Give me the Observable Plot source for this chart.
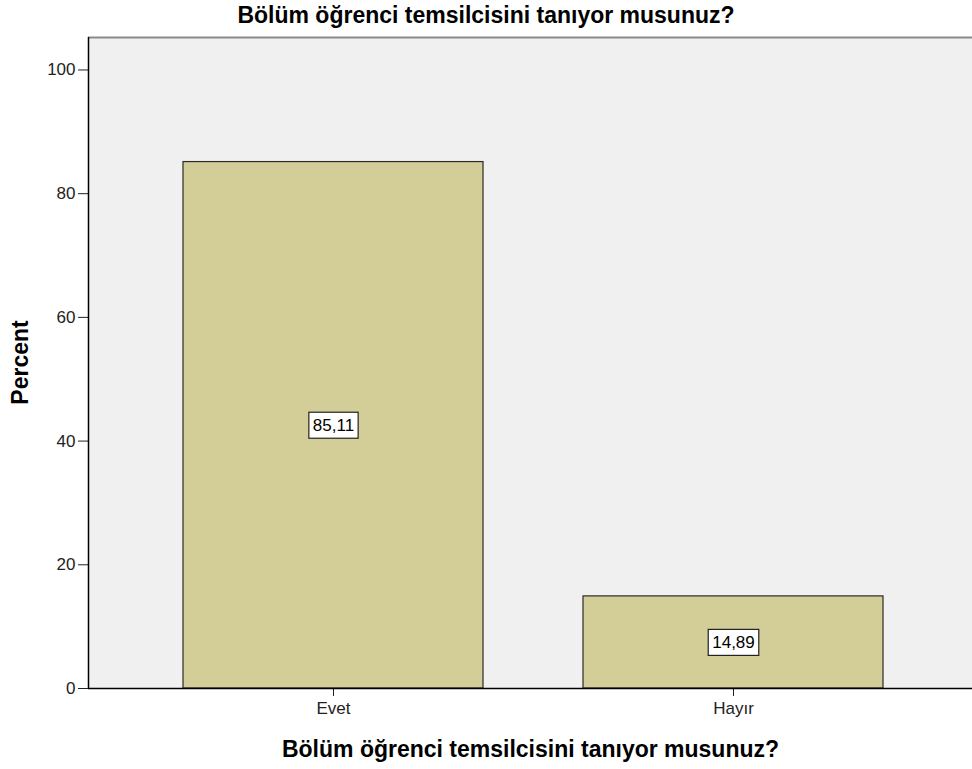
<!DOCTYPE html>
<html>
<head>
<meta charset="utf-8">
<script src="https://cdn.jsdelivr.net/npm/d3@7"></script>
<script src="https://cdn.jsdelivr.net/npm/@observablehq/plot@0.6"></script>
<style>
  html, body { margin: 0; padding: 0; background: #ffffff; }
  body { width: 972px; height: 769px; overflow: hidden; font-family: "Liberation Sans", Arial, sans-serif; }
  #title { height: 30px; line-height: 30px; text-align: center; font-weight: bold; font-size: 23px; color: #000; white-space: nowrap; }
  #chart svg { display: block; overflow: visible; }
</style>
</head>
<body>
<div id="title">Bölüm öğrenci temsilcisini tanıyor musunuz?</div>
<div id="chart"></div>
<script>
// ---- data ----
const categories = ["Evet", "Hayır"];
const percents = [85.11, 14.89];
const valueLabels = ["85,11", "14,89"];
const yTicks = [0, 20, 40, 60, 80, 100];
const xTitle = "Bölüm öğrenci temsilcisini tanıyor musunuz?";
const yTitle = "Percent";

const data = categories.map((c, i) => ({cat: c, pct: percents[i], label: valueLabels[i]}));

const W = 972, H = 739;
const mL = 88, mR = 0, mT = 7, mB = 81;

// frame edge lines drawn from Plot's own dimensions
const edgeLines = (index, scales, values, dims) => {
  const g = d3.create("svg:g");
  g.append("line")
    .attr("x1", dims.marginLeft).attr("x2", dims.width - dims.marginRight)
    .attr("y1", dims.marginTop + 0.5).attr("y2", dims.marginTop + 0.5)
    .attr("stroke", "#8a8a8a").attr("stroke-width", 2);
  g.append("line")
    .attr("x1", dims.marginLeft + 0.5).attr("x2", dims.marginLeft + 0.5)
    .attr("y1", dims.marginTop).attr("y2", dims.height - dims.marginBottom)
    .attr("stroke", "#000").attr("stroke-width", 1.5);
  return g.node();
};

// rotated y-axis title centred on the frame
const yTitleMark = (index, scales, values, dims) => {
  const cy = (dims.marginTop + dims.height - dims.marginBottom) / 2;
  const cx = dims.marginLeft - 60;
  return d3.create("svg:text")
    .attr("transform", `translate(${cx},${cy}) rotate(-90)`)
    .attr("text-anchor", "middle")
    .attr("font-size", 23)
    .attr("font-weight", "bold")
    .attr("fill", "#000")
    .text(yTitle)
    .node();
};

const chart = Plot.plot({
  width: W,
  height: H,
  marginLeft: mL,
  marginRight: mR,
  marginTop: mT,
  marginBottom: mB,
  style: {fontFamily: "'Liberation Sans', Arial, sans-serif", fontSize: "17px", color: "#222", background: "transparent"},
  x: {domain: categories, range: [133, 933], paddingInner: 0.25, paddingOuter: 0.125, tickSize: 8, tickPadding: 5, label: null},
  y: {domain: [0, 105.25], ticks: yTicks, tickSize: 10, tickPadding: 3, label: null},
  marks: [
    Plot.frame({fill: "#f0f0f0", stroke: null}),
    Plot.barY(data, {x: "cat", y: "pct", fill: "#d3ce97", stroke: "#2a2a2a", strokeWidth: 1.2}),
    Plot.ruleY([0], {stroke: "#000", strokeWidth: 1.5}),
    edgeLines,
    Plot.text(data, {x: "cat", y: d => d.pct / 2, text: "label", fontSize: 17, fill: "#000", className: "vlabel"}),
    Plot.text([xTitle], {frameAnchor: "bottom", text: d => d, fontSize: 23, fontWeight: "bold", fill: "#000", lineAnchor: "bottom", dy: 68}),
    yTitleMark
  ]
});

document.getElementById("chart").appendChild(chart);

// white boxes behind value labels
d3.select(chart).selectAll(".vlabel text").each(function() {
  const bb = this.getBBox();
  const padX = 4, padY = 4.5;
  const parent = this.parentNode;
  const rect = document.createElementNS("http://www.w3.org/2000/svg", "rect");
  rect.setAttribute("x", bb.x - padX);
  rect.setAttribute("y", bb.y - padY + 1);
  rect.setAttribute("width", bb.width + 2 * padX);
  rect.setAttribute("height", bb.height + 2 * padY - 2);
  rect.setAttribute("fill", "#ffffff");
  rect.setAttribute("stroke", "#222");
  rect.setAttribute("stroke-width", "1.2");
  const t = this.getAttribute("transform");
  if (t) rect.setAttribute("transform", t);
  parent.insertBefore(rect, this);
});
</script>
</body>
</html>
